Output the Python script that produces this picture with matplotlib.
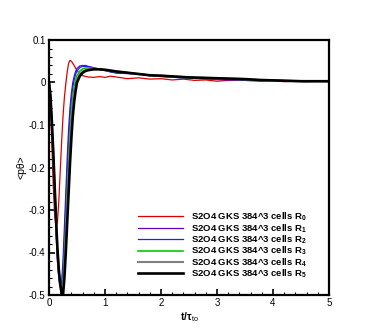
import matplotlib
matplotlib.use('Agg')
import matplotlib.pyplot as plt
from matplotlib.ticker import MultipleLocator, FuncFormatter

plt.rcParams['font.family'] = ['Liberation Sans', 'DejaVu Sans']
plt.rcParams['mathtext.fontset'] = 'custom'
plt.rcParams['mathtext.rm'] = 'Liberation Sans'
plt.rcParams['mathtext.bf'] = 'Liberation Sans:bold'

# time axis shared by R1..R5
t = [0, .025, .05, .075, .1, .125, .15, .175, .2, .225, .25, .275, .3, .325, .35, .375,
     .4, .425, .45, .475, .5, .55, .6, .65, .7, .8, .9, 1.0, 1.1, 1.2, 1.4, 1.6, 1.8,
     2.0, 2.25, 2.5, 2.75, 3.0, 3.25, 3.5, 3.75, 4.0, 4.25, 4.5, 4.75, 5.0]

# R0 has its own sampling (more wiggles)
t_r0 = [0, .025, .05, .075, .1, .125, .15, .175, .2, .225, .25, .275, .3, .325, .35, .375,
        .4, .45, .5, .55, .6, .7, .8, .9, 1.0, 1.1, 1.2, 1.3, 1.4, 1.5, 1.6, 1.8, 2.0,
        2.2, 2.4, 2.6, 2.8, 3.0, 3.2, 3.4, 3.6, 3.8, 4.0, 4.2, 4.4, 4.6, 4.8, 5.0]
p_r0 = [0, -0.05, -0.14, -0.24, -0.31, -0.34, -0.33, -0.28, -0.21, -0.14, -0.08, -0.035,
        -0.003, 0.025, 0.045, 0.052, 0.05, 0.04, 0.028, 0.02, 0.016, 0.013, 0.012, 0.014,
        0.012, 0.015, 0.013, 0.011, 0.009, 0.010, 0.011, 0.008, 0.009, 0.006, 0.008, 0.005,
        0.006, 0.003, 0.005, 0.006, 0.004, 0.003, 0.004, 0.002, 0.003, 0.002, 0.003, 0.002]

p_r1 = [0, -0.035, -0.1, -0.18, -0.27, -0.35, -0.42, -0.46, -0.48, -0.47, -0.42, -0.34,
        -0.26, -0.18, -0.11, -0.06, -0.025, 0.0, 0.015, 0.026, 0.033, 0.039, 0.04, 0.04,
        0.038, 0.035, 0.032, 0.029, 0.025, 0.022, 0.021, 0.020, 0.016, 0.014, 0.012, 0.010,
        0.009, 0.007, 0.006, 0.006, 0.005, 0.005, 0.004, 0.004, 0.003, 0.003]
p_r2 = [0, -0.033, -0.097, -0.175, -0.26, -0.34, -0.41, -0.455, -0.48, -0.48, -0.44, -0.37,
        -0.29, -0.21, -0.14, -0.08, -0.04, -0.012, 0.006, 0.019, 0.027, 0.035, 0.038, 0.038,
        0.037, 0.034, 0.031, 0.028, 0.025, 0.023, 0.022, 0.020, 0.017, 0.015, 0.012, 0.011,
        0.009, 0.008, 0.007, 0.006, 0.006, 0.005, 0.004, 0.004, 0.003, 0.003]
p_r3 = [0, -0.032, -0.094, -0.17, -0.25, -0.33, -0.40, -0.45, -0.478, -0.49, -0.47, -0.41,
        -0.34, -0.26, -0.19, -0.12, -0.07, -0.035, -0.01, 0.006, 0.016, 0.027, 0.032, 0.034,
        0.034, 0.033, 0.031, 0.029, 0.027, 0.025, 0.022, 0.020, 0.017, 0.015, 0.013, 0.011,
        0.010, 0.009, 0.008, 0.007, 0.006, 0.005, 0.004, 0.004, 0.003, 0.003]
p_r4 = [0, -0.031, -0.092, -0.165, -0.245, -0.325, -0.395, -0.445, -0.477, -0.494, -0.49,
        -0.44, -0.37, -0.30, -0.225, -0.155, -0.10, -0.058, -0.028, -0.008, 0.006, 0.020,
        0.026, 0.029, 0.031, 0.032, 0.031, 0.029, 0.028, 0.026, 0.023, 0.020, 0.017, 0.016,
        0.014, 0.012, 0.011, 0.010, 0.009, 0.008, 0.006, 0.005, 0.004, 0.003, 0.003, 0.003]
p_r5 = [0, -0.03, -0.09, -0.16, -0.24, -0.32, -0.39, -0.44, -0.475, -0.495, -0.5, -0.46,
        -0.40, -0.33, -0.26, -0.19, -0.13, -0.08, -0.045, -0.02, 0.0, 0.015, 0.023, 0.027,
        0.029, 0.031, 0.031, 0.030, 0.028, 0.026, 0.023, 0.020, 0.017, 0.016, 0.014, 0.012,
        0.011, 0.010, 0.009, 0.008, 0.006, 0.005, 0.004, 0.003, 0.003, 0.003]

labels = ['S2O4 GKS 384^3 cells R$_{\\mathbf{%d}}$' % i for i in range(6)]
colors = ['#e00000', '#5a00c8', '#1e1eff', '#00cc00', '#808080', '#000000']
widths = [0.9, 0.9, 0.9, 1.2, 1.5, 1.9]

fig = plt.figure(figsize=(3.74, 3.32), dpi=100)
ax = fig.add_axes([49/374, 1 - 295/332, 280/374, 255/332])

series = [(t_r0, p_r0), (t, p_r1), (t, p_r2), (t, p_r3), (t, p_r4), (t, p_r5)]
for (x, y), c, lw, lab in zip(series, colors, widths, labels):
    ax.plot(x, y, color=c, lw=lw, label=lab)

ax.set_xlim(0, 5)
ax.set_ylim(-0.5, 0.1)
ax.xaxis.set_major_locator(MultipleLocator(1))
ax.xaxis.set_minor_locator(MultipleLocator(0.2))
ax.yaxis.set_major_locator(MultipleLocator(0.1))
ax.yaxis.set_minor_locator(MultipleLocator(0.02))
ax.yaxis.set_major_formatter(FuncFormatter(lambda v, p: '%g' % round(v, 2)))
ax.tick_params(which='both', direction='in', top=False, right=False, labelsize=7, pad=2.5)
ax.tick_params(which='major', length=4.5, width=1.2)
ax.tick_params(which='minor', length=2.5, width=0.8)
for s in ax.spines.values():
    s.set_linewidth(1.6)

ax.set_xlabel('t/τ$_{\\mathrm{to}}$', fontsize=7.5, fontweight='bold', labelpad=1)
ax.set_ylabel('<pθ>', fontsize=7.5, labelpad=2)

leg = ax.legend(loc='upper left', bbox_to_anchor=(133/374, 1 - 206/332),
                bbox_transform=fig.transFigure, frameon=False, borderpad=0,
                handlelength=4.8, handletextpad=0.85, labelspacing=-0.12,
                prop={'size': 6.8, 'weight': 'bold'})

fig.savefig('out.png', dpi=100)
